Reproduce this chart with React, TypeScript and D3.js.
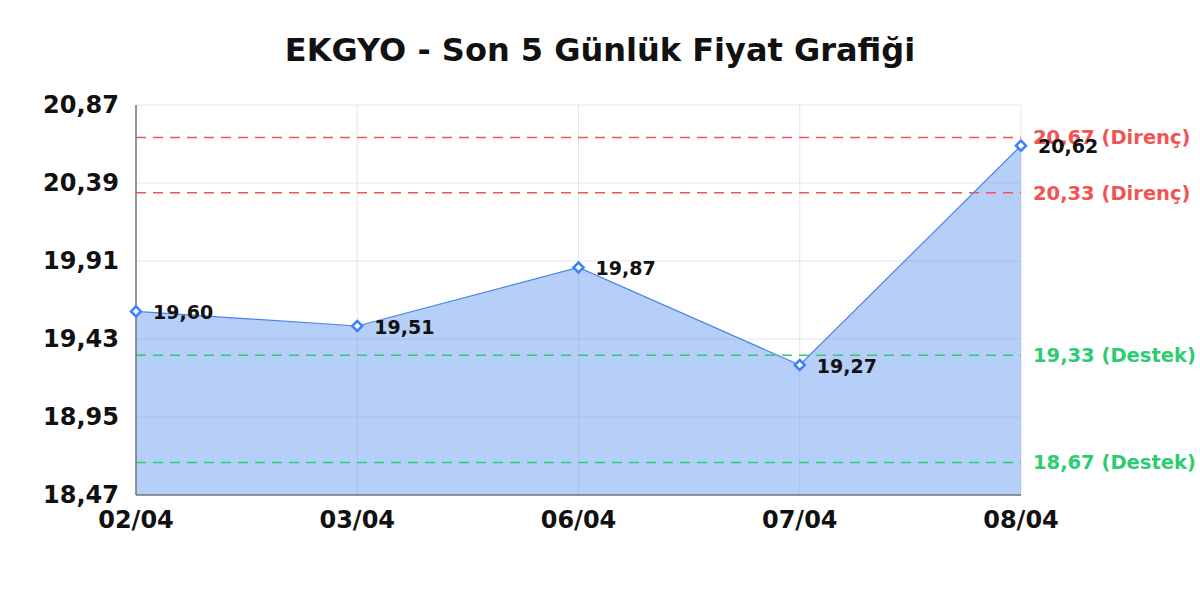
import React from "react";
import * as d3 from "d3";

const dates = ["02/04", "03/04", "06/04", "07/04", "08/04"];
const prices = [19.6, 19.51, 19.87, 19.27, 20.62];
const yTicks = [18.47, 18.95, 19.43, 19.91, 20.39, 20.87];
const resistance = [20.67, 20.33];
const support = [19.33, 18.67];

const W = 1200;
const H = 600;
const M = { left: 136, right: 1021, top: 105, bottom: 495 };
const FONT = "'DejaVu Sans', sans-serif";
const fmt = (v: number) => v.toFixed(2).replace(".", ",");

export default function App() {
  const x = d3.scalePoint<string>().domain(dates).range([M.left, M.right]);
  const y = d3.scaleLinear().domain([18.47, 20.87]).range([M.bottom, M.top]);
  const pts = dates.map((d, i) => ({ d, v: prices[i] }));
  const area = d3
    .area<{ d: string; v: number }>()
    .x((p) => x(p.d)!)
    .y0(M.bottom)
    .y1((p) => y(p.v));
  const line = d3
    .line<{ d: string; v: number }>()
    .x((p) => x(p.d)!)
    .y((p) => y(p.v));
  const diamond = (cx: number, cy: number, r: number) =>
    `M${cx},${cy - r}L${cx + r},${cy}L${cx},${cy + r}L${cx - r},${cy}Z`;

  return (
    <svg width={W} height={H} style={{ display: "block", position: "absolute", left: 0, top: 0 }}>
      <rect width={W} height={H} fill="#ffffff" />
      <text x={600} y={61} textAnchor="middle" fontFamily={FONT} fontWeight="bold" fontSize={32} fill="#111">
        EKGYO - Son 5 Günlük Fiyat Grafiği
      </text>
      <path d={area(pts)!} fill="#b6cff8" />
      {yTicks.map((t) => (
        <line key={"h" + t} x1={M.left} x2={M.right} y1={y(t)} y2={y(t)} stroke="#8a9bb5" strokeOpacity={0.25} strokeWidth={1} />
      ))}
      {dates.map((d) => (
        <line key={"v" + d} x1={x(d)} x2={x(d)} y1={M.top} y2={M.bottom} stroke="#8a9bb5" strokeOpacity={0.25} strokeWidth={1} />
      ))}
      {resistance.map((r) => (
        <g key={"r" + r}>
          <line x1={M.left} x2={M.right} y1={y(r)} y2={y(r)} stroke="#f05555" strokeWidth={1.5} strokeDasharray="10,7" />
          <text x={1033} y={y(r)} dy="0.35em" fontFamily={FONT} fontWeight="bold" fontSize={19.5} fill="#f05555">
            {fmt(r)} (Direnç)
          </text>
        </g>
      ))}
      {support.map((s) => (
        <g key={"s" + s}>
          <line x1={M.left} x2={M.right} y1={y(s)} y2={y(s)} stroke="#2ecc71" strokeWidth={1.5} strokeDasharray="10,7" />
          <text x={1033} y={y(s)} dy="0.35em" fontFamily={FONT} fontWeight="bold" fontSize={19.5} fill="#2ecc71">
            {fmt(s)} (Destek)
          </text>
        </g>
      ))}
      <path d={line(pts)!} fill="none" stroke="#4a86e8" strokeWidth={1.2} />
      <line x1={M.left} x2={M.left} y1={M.top} y2={M.bottom} stroke="#777" strokeWidth={1.5} />
      <line x1={M.left} x2={M.right} y1={M.bottom} y2={M.bottom} stroke="#777" strokeWidth={1.5} />
      {pts.map((p) => (
        <g key={"p" + p.d}>
          <path d={diamond(x(p.d)!, y(p.v), 5)} fill="#fff" stroke="#3b82f6" strokeWidth={2.5} />
          <text x={x(p.d)! + 17} y={y(p.v)} dy="0.4em" fontFamily={FONT} fontWeight="bold" fontSize={19} fill="#111">
            {fmt(p.v)}
          </text>
        </g>
      ))}
      {yTicks.map((t) => (
        <text key={"yt" + t} x={119} y={y(t)} dy="0.35em" textAnchor="end" fontFamily={FONT} fontWeight="bold" fontSize={24} fill="#111">
          {fmt(t)}
        </text>
      ))}
      {dates.map((d) => (
        <text key={"xt" + d} x={x(d)} y={528} textAnchor="middle" fontFamily={FONT} fontWeight="bold" fontSize={24} fill="#111">
          {d}
        </text>
      ))}
    </svg>
  );
}
